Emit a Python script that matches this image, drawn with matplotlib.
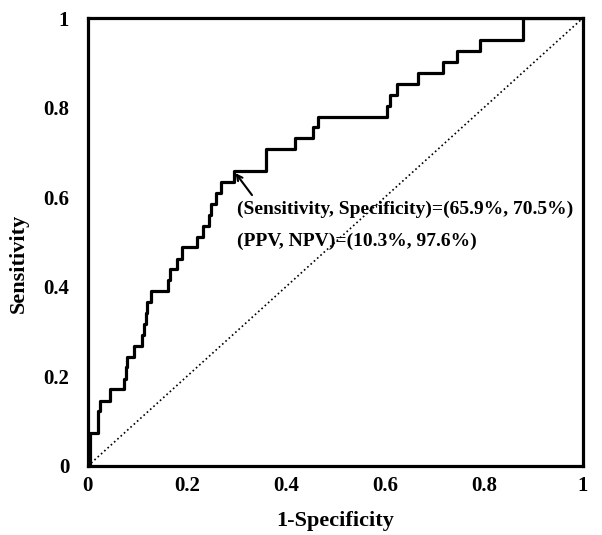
import matplotlib
matplotlib.use('Agg')
import matplotlib.pyplot as plt

plt.rcParams['font.family'] = 'Liberation Serif'
plt.rcParams['font.weight'] = 'bold'

# ROC corners (1-specificity, sensitivity), step 'post'
fpr = [0.0, 0.005, 0.02, 0.025, 0.045, 0.072, 0.076, 0.08, 0.093, 0.11,
       0.113, 0.117, 0.12, 0.127, 0.162, 0.165, 0.18, 0.19, 0.22, 0.232,
       0.245, 0.248, 0.258, 0.27, 0.295, 0.36, 0.418, 0.455, 0.465, 0.604,
       0.61, 0.624, 0.667, 0.717, 0.745, 0.792, 0.879, 1.0]
tpr = [0.0, 0.073, 0.122, 0.146, 0.171, 0.195, 0.220, 0.244, 0.268, 0.293,
       0.317, 0.341, 0.366, 0.390, 0.415, 0.439, 0.463, 0.488, 0.512, 0.537,
       0.561, 0.585, 0.610, 0.634, 0.659, 0.707, 0.732, 0.756, 0.780, 0.805,
       0.829, 0.854, 0.878, 0.902, 0.927, 0.951, 1.0, 1.0]

ticks = [0, 0.2, 0.4, 0.6, 0.8, 1]
tick_labels = ['0', '0.2', '0.4', '0.6', '0.8', '1']

cut_point = (0.295, 0.659)
note1 = '(Sensitivity, Specificity)=(65.9%, 70.5%)'
note2 = '(PPV, NPV)=(10.3%, 97.6%)'

fig = plt.figure(figsize=(6.02, 5.35), dpi=100)
ax = fig.add_axes([0.146, 0.129, 0.822, 0.837])

ax.plot([0, 1], [0, 1], color='black', linestyle=':', linewidth=1.2)
ax.step(fpr, tpr, where='post', color='black', linewidth=2.3)

ax.annotate('', xy=cut_point, xytext=(0.335, 0.6),
            arrowprops=dict(arrowstyle='->', color='black', lw=1.5))
ax.text(0.302, 0.574, note1, fontsize=14, fontweight='bold', va='center')
ax.text(0.302, 0.502, note2, fontsize=14, fontweight='bold', va='center')

ax.set_xlim(0, 1)
ax.set_ylim(0, 1)
ax.set_xticks(ticks)
ax.set_xticklabels(tick_labels)
ax.set_yticks(ticks)
ax.set_yticklabels(tick_labels)
ax.tick_params(length=0, labelsize=15)
ax.tick_params(axis='y', pad=13.5)
ax.tick_params(axis='x', pad=7)
for s in ax.spines.values():
    s.set_linewidth(2.3)

ax.set_xlabel('1-Specificity', fontsize=16, fontweight='bold', labelpad=11)
ax.set_ylabel('Sensitivity', fontsize=16, fontweight='bold')
ax.yaxis.set_label_coords(-0.12, 0.453)

fig.savefig('out.png', dpi=100)
